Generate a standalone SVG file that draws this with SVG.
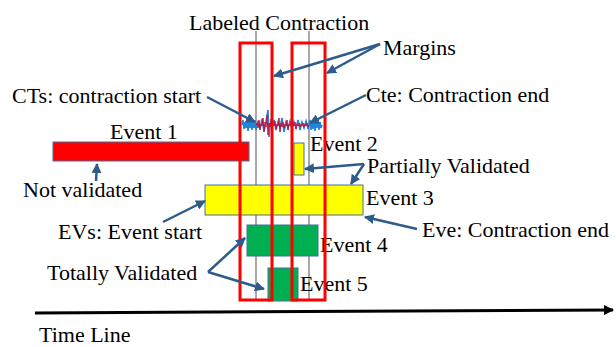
<svg xmlns="http://www.w3.org/2000/svg" width="616" height="347" viewBox="0 0 616 347">
<defs>
<style>
.bar{stroke:#41719c;stroke-width:1}
.guide{stroke:#8c8c8c;stroke-width:1.5;fill:none}
.margin{fill:none;stroke:#ff0000;stroke-width:3}
.conn{stroke:#2e5c8a;stroke-width:2.5;fill:none;marker-end:url(#ah)}
</style>
<marker id="ah" viewBox="0 0 10 10" refX="9" refY="5" markerWidth="4" markerHeight="4" orient="auto" markerUnits="strokeWidth">
<path d="M0,0 L10,5 L0,10 z" fill="#2e5c8a"/>
</marker>
<marker id="ahk" viewBox="0 0 10 10" refX="9" refY="5" markerWidth="3.5" markerHeight="3.5" orient="auto" markerUnits="strokeWidth">
<path d="M0,0 L10,5 L0,10 z" fill="#000"/>
</marker>
</defs>
<rect width="616" height="347" fill="#fff"/>

<g id="guides">
<line class="guide" x1="256" y1="31" x2="256" y2="300"/>
<line class="guide" x1="309" y1="31" x2="309" y2="300"/>
</g>

<g id="signal">
<path fill="none" stroke="#1f86d8" stroke-width="1.6" d="M242,125 L243,120 L244,129 L245,122 L246,128 L247,119 L248,131 L249,122 L250,128 L251,120 L252,130 L253,122 L254,128 L255,120 L256,130 L258,121 L260,129 L262,119 L264,131 L266,122 L268,110 L269,137 L270,123 L272,128 L274,120 L276,130 L278,122 L280,128 L282,118 L284,132 L286,122 L288,128 L290,121 L292,129 L294,122 L296,128 L298,120 L300,130 L302,122 L304,128 L306,121 L308,129 L310,120 L311,130 L312,121 L313,129 L314,119 L315,131 L316,122 L317,128 L318,120 L319,130 L320,122 L321,128 L322,125"/>
<path fill="none" stroke="#c0143c" stroke-width="1" d="M256,125 L257,123 L258,128 L259,120 L260,130 L261,124 L262,126 L263,118 L264,132 L265,122 L266,127 L267,115 L268,135 L269,123 L270,127 L271,119 L272,131 L273,124 L274,126 L275,121 L276,129 L277,124 L278,126 L279,118 L280,132 L281,123 L282,127 L283,122 L284,128 L285,124 L286,126 L287,120 L288,130 L289,124 L290,126 L291,122 L292,128 L293,124 L294,126 L295,122 L296,129 L297,124 L298,126 L299,123 L300,127 L301,124 L302,126 L303,123 L304,127 L305,124 L306,126 L307,123 L308,127 L309,125"/>
</g>

<g font-family="Liberation Serif, DejaVu Serif, Noto Serif, serif" font-size="22" fill="#000">
<g id="event1"><rect class="bar" x="53" y="142" width="196" height="19" fill="#ff0000"/><text x="110" y="139">Event 1</text></g>
<g id="event2"><rect class="bar" x="294" y="143" width="10" height="32" fill="#ffff00"/><text x="310" y="151">Event 2</text></g>
<g id="event3"><rect class="bar" x="205" y="185" width="158" height="30" fill="#ffff00"/><text x="366" y="205">Event 3</text></g>
<g id="event4"><rect class="bar" x="247" y="225" width="71" height="31" fill="#00b050"/><text x="320" y="252">Event 4</text></g>
<g id="event5"><rect class="bar" x="268" y="268" width="30" height="33" fill="#00b050"/><text x="300" y="291">Event 5</text></g>
</g>

<g id="margins-boxes">
<rect class="margin" x="240" y="43" width="32" height="257"/>
<rect class="margin" x="292" y="43" width="33" height="257"/>
</g>

<g id="labels" font-family="Liberation Serif, DejaVu Serif, Noto Serif, serif" font-size="22" fill="#000">
<text x="189" y="30">Labeled Contraction</text>
<text x="383" y="55">Margins</text>
<text x="12" y="103">CTs: contraction start</text>
<text x="366" y="102">Cte: Contraction end</text>
<text x="367" y="173">Partially Validated</text>
<text x="23" y="197">Not validated</text>
<text x="422" y="237">Eve: Contraction end</text>
<text x="58" y="239">EVs: Event start</text>
<text x="47" y="280">Totally Validated</text>
<text x="39" y="342">Time Line</text>
</g>

<g id="connectors">
<line class="conn" x1="380" y1="44" x2="274" y2="76"/>
<line class="conn" x1="380" y1="44" x2="327" y2="73"/>
<line class="conn" x1="207" y1="97" x2="255" y2="122"/>
<line class="conn" x1="366" y1="95" x2="310" y2="123"/>
<line class="conn" x1="96" y1="181" x2="97" y2="164"/>
<line class="conn" x1="364" y1="164" x2="305" y2="169"/>
<line class="conn" x1="364" y1="164" x2="351" y2="184"/>
<line class="conn" x1="417" y1="229" x2="365" y2="217"/>
<line class="conn" x1="163" y1="222" x2="205" y2="201"/>
<line class="conn" x1="208" y1="272" x2="245" y2="238"/>
<line class="conn" x1="208" y1="272" x2="264" y2="289"/>
<line stroke="#000" stroke-width="3" x1="35" y1="313" x2="613" y2="310" marker-end="url(#ahk)"/>
</g>
</svg>
